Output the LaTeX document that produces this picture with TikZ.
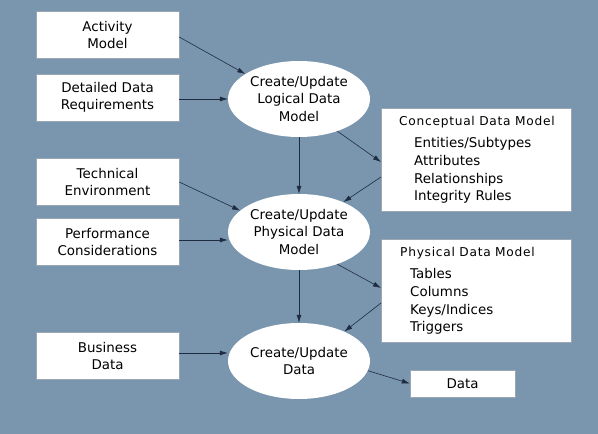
\documentclass[tikz,border=0pt]{standalone}
\usepackage{fontspec}
\setmainfont{DejaVu Sans}
\usetikzlibrary{arrows.meta,positioning,shapes.geometric}
\definecolor{slatebg}{HTML}{7A96AE}
\definecolor{inkblue}{HTML}{1E2B40}
\definecolor{edgegray}{HTML}{9AA6B2}
\newcommand{\paneltitle}[1]{\mbox{\fontsize{12.2}{14}\selectfont\addfontfeature{LetterSpace=6}#1}}

\begin{document}
\begin{tikzpicture}[
			x=1pt,y=-1pt,
			inbox/.style={draw=edgegray,fill=white,minimum width=143pt,minimum height=47pt,inner sep=2pt,align=center,font=\fontsize{13.4}{17.3}\selectfont},
			proc/.style={ellipse,fill=white,minimum width=142pt,minimum height=76pt,inner sep=0pt,align=center,font=\fontsize{13.4}{17.3}\selectfont},
			panel/.style={draw=edgegray,fill=white,anchor=north west,minimum width=190pt,minimum height=103pt,text width=154pt,inner xsep=18pt,inner ysep=6pt,align=left,font=\fontsize{13.4}{17.6}\selectfont},
			outbox/.style={draw=edgegray,fill=white,minimum width=105pt,minimum height=27pt,inner sep=0pt,font=\fontsize{13.4}{17.3}\selectfont},
			arr/.style={-{Latex[length=8pt,width=5pt]},semithick,inkblue}
			]
			\fill[slatebg] (0,0) rectangle (598,434);
			\useasboundingbox (0,0) rectangle (598,434);
			% inputs
			\node[inbox] (act) at (107.5,35) {Activity\\Model};
			\node[inbox] (req) at (107.5,97.5) {Detailed Data\\Requirements};
			\node[inbox] (tech) at (107.5,182) {Technical\\Environment};
			\node[inbox] (perf) at (107.5,242) {Performance\\Considerations};
			\node[inbox] (bus) at (107.5,356) {Business\\Data};
			% processes
			\node[proc] (logical) at (299,99) {Create/Update\\Logical Data\\Model};
			\node[proc] (physical) at (299,232) {Create/Update\\Physical Data\\Model};
			\node[proc] (create) at (299,361) {Create/Update\\Data};
			% outputs
			\node[panel] (cdm) at (381,108) {\paneltitle{Conceptual Data Model}\\[5pt]
				\hspace*{15pt}Entities/Subtypes\\\hspace*{15pt}Attributes\\\hspace*{15pt}Relationships\\\hspace*{15pt}Integrity Rules};
			\node[panel] (pdm) at (381,239) {\paneltitle{\hspace*{1pt}Physical Data Model}\\[5pt]
				\hspace*{11pt}Tables\\\hspace*{11pt}Columns\\\hspace*{11pt}Keys/Indices\\\hspace*{11pt}Triggers};
			\node[outbox] (data) at (462.5,383.5) {Data};
			% flows
			\draw[arr] (act.east |- 0,37) -- (logical.155);
			\draw[arr] (req.east |- 0,99) -- (logical.west |- 0,99);
			\draw[arr] (logical) -- (physical);
			\draw[arr] (logical.-40) -- (cdm.west |- 0,162);
			\draw[arr] (cdm.west |- 0,177) -- (physical.34);
			\draw[arr] (tech.east |- 0,182) -- (physical.160);
			\draw[arr] (perf.east |- 0,240) -- (physical.west |- 0,240);
			\draw[arr] (physical.-40) -- (pdm.west |- 0,288);
			\draw[arr] (physical) -- (create);
			\draw[arr] (pdm.west |- 0,303) -- (create.33);
			\draw[arr] (bus.east |- 0,353) -- (create.west |- 0,353);
			\draw[arr] (create.-8) -- (data.west);
		\end{tikzpicture}
\end{document}
